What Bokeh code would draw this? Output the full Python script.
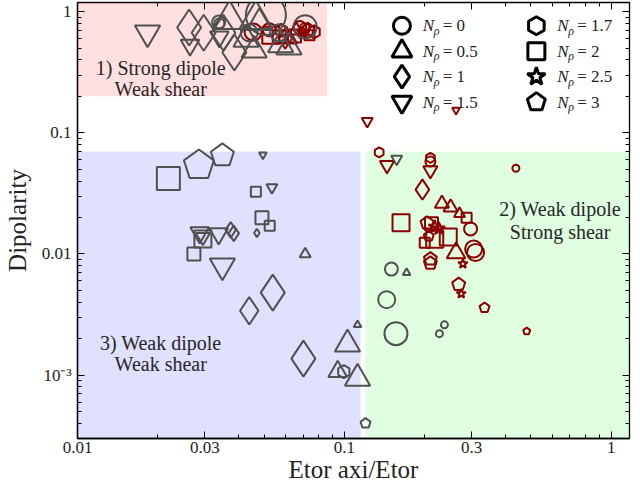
import numpy as np
from bokeh.plotting import figure
from bokeh.models import FixedTicker, LogAxis, Label, CustomJSTickFormatter, ColumnDataSource
from bokeh.embed import file_html
from bokeh.resources import INLINE

# ---------------- data ----------------
# gray simulations
gray_x = [0.0183, 0.0262, 0.0264, 0.0297, 0.0338, 0.0340, 0.0352, 0.0371, 0.0340, 0.0387,
          0.0466, 0.0508, 0.0459, 0.0577, 0.0428, 0.0440, 0.0567, 0.0713, 0.0480, 0.0620,
          0.157, 0.150, 0.171, 0.144, 0.156, 0.237, 0.227, 0.112, 0.120,
          0.0219, 0.0285, 0.0349, 0.0495, 0.0466, 0.0535, 0.0491, 0.0525, 0.047, 0.0287,
          0.0295, 0.0295, 0.0338, 0.0375, 0.0385, 0.0273, 0.0349, 0.0713, 0.0539, 0.0440,
          0.1027, 0.0702, 0.0944, 0.0995, 0.112]
gray_y = [0.67, 0.74, 0.53, 0.67, 0.82, 0.80, 0.67, 0.86, 0.62, 0.46,
          0.86, 0.94, 0.48, 0.53, 0.59, 0.67, 0.67, 0.75, 0.81, 0.51,
          0.061, 0.0075, 0.0070, 0.0042, 0.0022, 0.0026, 0.0022, 0.0026, 0.0004,
          0.042, 0.054, 0.065, 0.066, 0.0327, 0.0354, 0.0199, 0.0171, 0.0149, 0.0150,
          0.0133, 0.0138, 0.0147, 0.0158, 0.0148, 0.0100, 0.0080, 0.0100, 0.0048, 0.0034,
          0.0018, 0.00137, 0.00107, 0.00107, 0.00094]
gray_nrho = [1.5, 1, 1.5, 1, 0, 0, 1, 0.5, 1.5, 1,
             0.5, 0, 0.5, 0.5, 0.5, 0, 0, 0, 0.5, 0.5,
             1.5, 0, 0.5, 0, 0, 0, 0, 0.5, 3,
             2, 3, 3, 1.5, 2, 1.5, 2, 2, 1, 1.5,
             2, 1.5, 1.5, 1, 1, 2, 1.5, 0.5, 1, 1,
             0.5, 1, 0.5, 1.7, 0.5]
gray_class = [4, 5, 3, 5, 2, 1, 5, 5, 3, 5,
              5, 6, 4, 4, 4, 3, 3, 4, 4, 4,
              1, 2, 0, 3, 4, 0, 0, 0, 1,
              4, 5, 4, 0, 1, 1, 2, 1, 0, 3,
              3, 2, 3, 2, 2, 2, 4, 1, 5, 4,
              4, 5, 3, 2, 4]

# dark red simulations
red_x = [0.0455, 0.053, 0.060, 0.0625, 0.065, 0.068, 0.070, 0.073, 0.077, 0.074,
         0.066, 0.058, 0.071, 0.0523, 0.057,
         0.1218, 0.262,
         0.135, 0.1444, 0.21, 0.21, 0.21, 0.439, 0.196, 0.232, 0.25, 0.27,
         0.287, 0.163, 0.204, 0.212, 0.218, 0.226, 0.245, 0.218, 0.20, 0.207,
         0.297, 0.305, 0.31, 0.262, 0.278, 0.21, 0.21, 0.268, 0.274, 0.335, 0.482]
red_y = [0.68, 0.64, 0.60, 0.59, 0.63, 0.74, 0.67, 0.71, 0.68, 0.64,
         0.70, 0.70, 0.73, 0.71, 0.62,
         0.1246, 0.154,
         0.069, 0.054, 0.062, 0.058, 0.049, 0.051, 0.034, 0.026, 0.0242, 0.0215,
         0.0199, 0.0181, 0.018, 0.0178, 0.0168, 0.0162, 0.0138, 0.0132, 0.0124, 0.0140,
         0.0161, 0.011, 0.0103, 0.0102, 0.0083, 0.0091, 0.0084, 0.0056, 0.0047, 0.0036, 0.0023]
red_nrho = [0, 2, 1, 0.5, 2, 0, 2.5, 3, 1.7, 2,
            0.5, 1.7, 0, 0, 2,
            1.5, 1.5,
            1.7, 1.5, 1.7, 0, 1.5, 0, 1, 0.5, 0.5, 0.5,
            2, 2, 3, 2, 2.5, 2.5, 2, 2, 2, 3,
            0, 0, 0, 0.5, 2.5, 3, 3, 3, 2.5, 3, 3]
red_class = [3, 3, 3, 2, 2, 2, 2, 2, 2, 1,
             2, 2, 1, 2, 2,
             1, 0,
             1, 2, 1, 1, 2, 0, 3, 2, 2, 1,
             1, 3, 2, 2, 2, 2, 3, 3, 1, 1,
             2, 3, 3, 3, 1, 2, 2, 2, 1, 1, 0]

legend_nrho = [0, 0.5, 1, 1.5, 1.7, 2, 2.5, 3]
legend_text = ["0", "0.5", "1", "1.5", "1.7", "2", "2.5", "3"]

x_ticks = [0.01, 0.03, 0.1, 0.3, 1]
x_minor = [0.02, 0.04, 0.05, 0.06, 0.07, 0.08, 0.09, 0.2, 0.4, 0.5, 0.6, 0.7, 0.8, 0.9]
y_ticks = [1e-3, 1e-2, 1e-1, 1]
y_minor = [m * d for d in (1e-4, 1e-3, 1e-2, 1e-1) for m in range(2, 10) if m * d >= 3e-4]

# ---------------- style / layout ----------------
X_RANGE = (0.01, 1.17)
Y_RANGE = (3e-4, 1.19)
FW, FH = 552, 436
PPD_X = FW / np.log10(X_RANGE[1] / X_RANGE[0])
PPD_Y = FH / np.log10(Y_RANGE[1] / Y_RANGE[0])
FONT = "Liberation Serif"
GRAY = "#505050"
RED = "#8b0000"
MARKERS = {0: "circle", 0.5: "triangle", 1: "diamond", 1.5: "inverted_triangle",
           1.7: "hex", 2: "square", 2.5: "star", 3: "pentagon"}
SIZE_PX = {0: 7, 1: 10, 2: 13, 3: 17, 4: 23, 5: 30, 6: 40}
SHAPE_SCALE = {"diamond": 1.2, "triangle": 1.1, "inverted_triangle": 1.1}


def ref_xy(px, py):
    # position expressed in reference-picture pixels -> data coordinates
    return 0.01 * 10 ** ((px - 78.8) / 270.0), 10 ** ((12 - py) / 120.5)


def pentagon(xc, yc, size):
    r = size / 2 * 1.05
    ang = np.pi / 2 + np.arange(5) * 2 * np.pi / 5
    xs = xc * 10 ** (r * np.cos(ang) / PPD_X)
    ys = yc * 10 ** (r * np.sin(ang) / PPD_Y)
    return list(xs), list(ys)


p = figure(x_axis_type="log", y_axis_type="log", x_range=X_RANGE, y_range=Y_RANGE,
           frame_width=FW, frame_height=FH, min_border_left=72, min_border_right=2,
           min_border_top=2, min_border_bottom=40,
           output_backend="svg", toolbar_location=None)
p.grid.visible = False
p.outline_line_color = "black"
p.outline_line_width = 1.3

# regime regions
p.quad(left=[X_RANGE[0]], right=[0.086], bottom=[0.2], top=[Y_RANGE[1]],
       fill_color="red", fill_alpha=0.12, line_color=None)
p.quad(left=[X_RANGE[0]], right=[0.115], bottom=[Y_RANGE[0]], top=[0.07],
       fill_color="blue", fill_alpha=0.12, line_color=None)
p.quad(left=[0.12], right=[X_RANGE[1]], bottom=[Y_RANGE[0]], top=[0.07],
       fill_color="lime", fill_alpha=0.12, line_color=None)

# region labels
region_lines = [("1) Strong dipole", 163, 68), ("Weak shear", 163, 89),
                ("2) Weak dipole", 567, 208), ("Strong shear", 567, 231),
                ("3) Weak dipole", 163, 342), ("Weak shear", 163, 362)]
for txt, px, py in region_lines:
    lx, ly = ref_xy(px, py)
    p.add_layout(Label(x=lx, y=ly, text=txt, text_font=FONT, text_font_size="20px",
                       text_color="#262626", text_align="center", text_baseline="middle"))


def draw_group(xs, ys, nrhos, classes, color):
    src = {"x": [], "y": [], "marker": [], "size": [], "angle": []}
    pxs, pys = [], []
    for x, y, n, c in zip(xs, ys, nrhos, classes):
        m = MARKERS[n]
        s = SIZE_PX[c] * SHAPE_SCALE.get(m, 1.0)
        if m == "pentagon":
            a, b = pentagon(x, y, s)
            pxs.append(a)
            pys.append(b)
        else:
            src["x"].append(x)
            src["y"].append(y)
            src["marker"].append(m)
            src["size"].append(s)
            src["angle"].append(np.pi / 6 if m == "hex" else 0.0)
    p.scatter("x", "y", marker="marker", size="size", angle="angle",
              source=ColumnDataSource(src), fill_alpha=0, line_color=color, line_width=2)
    if pxs:
        p.patches(pxs, pys, fill_alpha=0, line_color=color, line_width=2)


draw_group(red_x, red_y, red_nrho, red_class, RED)
draw_group(gray_x, gray_y, gray_nrho, gray_class, GRAY)

# legend
leg_size = {0: 17, 0.5: 20, 1: 23, 1.5: 20, 1.7: 18, 2: 17, 2.5: 19, 3: 18}
leg = {"x": [], "y": [], "marker": [], "size": [], "angle": []}
for i, (n, t) in enumerate(zip(legend_nrho, legend_text)):
    col, row = divmod(i, 4)
    mpx = 407 + col * 136
    mpy = 26 + row * 25.3
    mx, my = ref_xy(mpx, mpy)
    mk = MARKERS[n]
    if mk == "pentagon":
        a, b = pentagon(mx, my, leg_size[n])
        p.patch(a, b, fill_alpha=0, line_color="black", line_width=3)
    else:
        leg["x"].append(mx)
        leg["y"].append(my)
        leg["marker"].append(mk)
        leg["size"].append(leg_size[n])
        leg["angle"].append(np.pi / 6 if mk == "hex" else 0.0)
    tx, ty = ref_xy(mpx + 21, mpy)
    p.add_layout(Label(x=tx, y=ty, text="N", text_font=FONT, text_font_size="17px",
                       text_font_style="italic", text_baseline="middle", text_color="#222222"))
    p.add_layout(Label(x=tx, y=ty, x_offset=11, y_offset=-5, text="ρ", text_font=FONT,
                       text_font_size="12px", text_font_style="italic",
                       text_baseline="middle", text_color="#222222"))
    p.add_layout(Label(x=tx, y=ty, x_offset=20, text="= " + t, text_font=FONT,
                       text_font_size="17px", text_baseline="middle", text_color="#222222"))
p.scatter("x", "y", marker="marker", size="size", angle="angle",
          source=ColumnDataSource(leg), fill_alpha=0, line_color="black", line_width=3)

# axes
xticker = FixedTicker(ticks=x_ticks, minor_ticks=x_minor)
yticker = FixedTicker(ticks=y_ticks, minor_ticks=y_minor)
p.xaxis.ticker = xticker
p.yaxis.ticker = yticker
p.xaxis.formatter = CustomJSTickFormatter(code="return tick.toString();")
p.yaxis.formatter = CustomJSTickFormatter(
    code="if (Math.abs(tick - 0.001) < 1e-9) { return '10\u207b\u00b3'; } return tick.toString();")
p.xaxis.axis_label = "Etor axi/Etor"
p.yaxis.axis_label = "Dipolarity"
for ax in (p.xaxis[0], p.yaxis[0]):
    ax.axis_label_text_font = FONT
    ax.axis_label_text_font_size = "25px"
    ax.axis_label_text_font_style = "normal"
    ax.axis_label_text_color = "#222222"
    ax.major_label_text_font = FONT
    ax.major_label_text_font_size = "17px"
    ax.major_label_text_color = "#222222"
    ax.major_tick_in = 7
    ax.major_tick_out = 0
    ax.minor_tick_in = 4
    ax.minor_tick_out = 0
    ax.axis_line_color = "black"
    ax.axis_line_width = 1.3
p.xaxis.major_label_standoff = 3
p.xaxis.axis_label_standoff = 0
p.yaxis.major_label_standoff = 6
p.yaxis.axis_label_standoff = 8

for side, tk in (("above", xticker), ("right", yticker)):
    ax = LogAxis(ticker=tk, major_label_text_color=None, major_label_text_font_size="1px",
                 major_label_standoff=0, major_tick_in=7, major_tick_out=0,
                 minor_tick_in=4, minor_tick_out=0, axis_line_color=None)
    p.add_layout(ax, side)

open("out.html", "w", encoding="utf-8").write(file_html(p, INLINE))
